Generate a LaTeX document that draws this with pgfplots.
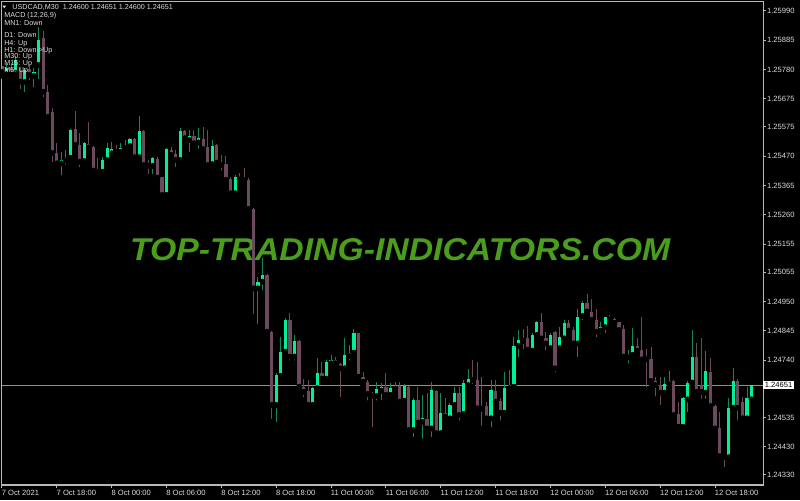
\documentclass[border=0pt]{standalone}
\usepackage{pgfplots}
\pgfplotsset{compat=1.18}
\usepackage{pgfplotstable}
\usepackage{fontspec}
\setmainfont{Liberation Sans}
\definecolor{bullbody}{HTML}{00F09A}
\definecolor{bullwick}{HTML}{14875A}
\definecolor{bearbody}{HTML}{6A4A5C}
\definecolor{bearwick}{HTML}{6A4A5C}
\definecolor{framec}{HTML}{B8B8B8}
\definecolor{txt}{HTML}{DCDCDC}
\definecolor{bidline}{HTML}{9A8A92}
\definecolor{wm}{HTML}{4A9E1C}

\pgfplotstableread{
x o h l c
1 1.25764 1.25799 1.25742 1.25785
3 1.25767 1.25828 1.25749 1.25814
5 1.25735 1.25785 1.25689 1.25778
7 1.25757 1.25785 1.25706 1.25771
8 1.25796 1.25932 1.25735 1.25885
13 1.25444 1.25486 1.25391 1.25456
14 1.25454 1.25492 1.25430 1.25464
15 1.25464 1.25567 1.25461 1.25563
18 1.25452 1.25522 1.25444 1.25516
22 1.25414 1.25468 1.25396 1.25456
23 1.25456 1.25518 1.25444 1.25500
24 1.25480 1.25522 1.25462 1.25494
26 1.25486 1.25516 1.25474 1.25498
27 1.25498 1.25528 1.25486 1.25506
28 1.25506 1.25534 1.25498 1.25530
30 1.25466 1.25613 1.25456 1.25561
33 1.25435 1.25468 1.25396 1.25462
36 1.25331 1.25498 1.25325 1.25494
39 1.25456 1.25572 1.25450 1.25561
41 1.25528 1.25563 1.25474 1.25542
43 1.25519 1.25569 1.25486 1.25535
46 1.25441 1.25528 1.25435 1.25507
51 1.25337 1.25402 1.25319 1.25396
56 1.24997 1.25039 1.24860 1.25021
57 1.25021 1.25106 1.24980 1.25045
60 1.24580 1.24693 1.24508 1.24687
61 1.24684 1.24824 1.24681 1.24770
62 1.24770 1.24890 1.24765 1.24884
64 1.24753 1.24830 1.24729 1.24810
68 1.24580 1.24645 1.24568 1.24640
69 1.24640 1.24747 1.24633 1.24693
71 1.24674 1.24741 1.24669 1.24735
72 1.24729 1.24759 1.24723 1.24741
75 1.24711 1.24818 1.24699 1.24759
76 1.24755 1.24794 1.24729 1.24767
77 1.24767 1.24851 1.24759 1.24838
82 1.24612 1.24663 1.24586 1.24636
83 1.24631 1.24657 1.24588 1.24643
85 1.24616 1.24657 1.24598 1.24640
86 1.24638 1.24663 1.24631 1.24648
88 1.24595 1.24655 1.24586 1.24648
90 1.24490 1.24604 1.24455 1.24598
92 1.24520 1.24616 1.24449 1.24532
94 1.24496 1.24663 1.24455 1.24633
96 1.24479 1.24622 1.24473 1.24552
98 1.24532 1.24586 1.24526 1.24580
99 1.24580 1.24645 1.24574 1.24622
101 1.24548 1.24669 1.24544 1.24657
102 1.24651 1.24708 1.24640 1.24673
105 1.24566 1.24679 1.24496 1.24574
107 1.24532 1.24669 1.24490 1.24633
110 1.24552 1.24699 1.24550 1.24640
111 1.24640 1.24705 1.24638 1.24648
112 1.24645 1.24822 1.24644 1.24791
113 1.24791 1.24848 1.24741 1.24812
116 1.24774 1.24836 1.24765 1.24830
117 1.24830 1.24881 1.24824 1.24878
120 1.24783 1.24836 1.24781 1.24830
122 1.24783 1.24860 1.24781 1.24822
123 1.24818 1.24884 1.24812 1.24874
126 1.24800 1.24922 1.24741 1.24893
127 1.24898 1.24953 1.24872 1.24944
131 1.24846 1.24878 1.24824 1.24860
132 1.24858 1.24896 1.24827 1.24893
137 1.24750 1.24777 1.24719 1.24759
138 1.24759 1.24854 1.24750 1.24791
145 1.24624 1.24679 1.24616 1.24655
146 1.24655 1.24702 1.24640 1.24667
149 1.24502 1.24610 1.24500 1.24604
150 1.24600 1.24667 1.24544 1.24660
151 1.24660 1.24848 1.24645 1.24750
154 1.24624 1.24774 1.24592 1.24702
159 1.24393 1.24604 1.24383 1.24570
160 1.24570 1.24711 1.24568 1.24667
163 1.24532 1.24643 1.24529 1.24604
164 1.24600 1.24651 1.24600 1.24651
}\bull

\pgfplotstableread{
x o h l c
0 1.25792 1.25807 1.25757 1.25771
2 1.25785 1.25803 1.25749 1.25764
4 1.25778 1.25789 1.25700 1.25736
6 1.25782 1.25796 1.25731 1.25760
9 1.25891 1.25917 1.25671 1.25700
10 1.25700 1.25724 1.25599 1.25610
11 1.25628 1.25642 1.25438 1.25481
12 1.25482 1.25517 1.25438 1.25444
16 1.25566 1.25632 1.25492 1.25510
17 1.25510 1.25553 1.25420 1.25450
19 1.25512 1.25593 1.25499 1.25501
20 1.25504 1.25506 1.25402 1.25418
21 1.25423 1.25462 1.25396 1.25414
25 1.25494 1.25510 1.25474 1.25486
29 1.25530 1.25534 1.25456 1.25466
31 1.25561 1.25563 1.25432 1.25438
32 1.25442 1.25456 1.25396 1.25435
34 1.25460 1.25468 1.25391 1.25393
35 1.25394 1.25396 1.25319 1.25331
37 1.25492 1.25504 1.25456 1.25474
38 1.25478 1.25492 1.25420 1.25456
40 1.25561 1.25563 1.25516 1.25534
42 1.25542 1.25563 1.25510 1.25516
44 1.25532 1.25575 1.25486 1.25495
45 1.25504 1.25563 1.25436 1.25438
47 1.25510 1.25512 1.25426 1.25446
48 1.25444 1.25474 1.25408 1.25438
49 1.25441 1.25470 1.25383 1.25385
50 1.25388 1.25396 1.25325 1.25337
52 1.25396 1.25408 1.25385 1.25387
53 1.25391 1.25426 1.25373 1.25385
54 1.25385 1.25391 1.25274 1.25281
55 1.25280 1.25284 1.24896 1.24997
58 1.25045 1.25048 1.24836 1.24842
59 1.24842 1.24844 1.24520 1.24580
63 1.24884 1.24908 1.24729 1.24753
65 1.24810 1.24812 1.24633 1.24645
66 1.24645 1.24674 1.24598 1.24627
67 1.24631 1.24669 1.24568 1.24580
70 1.24693 1.24735 1.24673 1.24674
73 1.24741 1.24753 1.24723 1.24729
74 1.24725 1.24730 1.24598 1.24711
78 1.24836 1.24838 1.24674 1.24681
79 1.24681 1.24699 1.24651 1.24663
80 1.24663 1.24669 1.24586 1.24619
81 1.24624 1.24627 1.24490 1.24612
84 1.24645 1.24695 1.24610 1.24616
87 1.24648 1.24663 1.24586 1.24592
89 1.24645 1.24648 1.24487 1.24490
91 1.24598 1.24643 1.24514 1.24517
93 1.24529 1.24622 1.24479 1.24496
95 1.24631 1.24633 1.24461 1.24479
97 1.24552 1.24604 1.24520 1.24538
100 1.24622 1.24645 1.24514 1.24544
103 1.24673 1.24741 1.24645 1.24669
104 1.24669 1.24735 1.24567 1.24568
106 1.24576 1.24592 1.24514 1.24532
108 1.24631 1.24669 1.24580 1.24592
109 1.24595 1.24604 1.24514 1.24552
114 1.24815 1.24851 1.24770 1.24809
115 1.24818 1.24862 1.24770 1.24777
118 1.24878 1.24908 1.24812 1.24818
119 1.24818 1.24842 1.24765 1.24800
121 1.24842 1.24844 1.24687 1.24711
124 1.24874 1.24884 1.24842 1.24846
125 1.24848 1.24860 1.24794 1.24800
128 1.24944 1.24977 1.24908 1.24914
129 1.24914 1.24958 1.24878 1.24884
130 1.24884 1.24922 1.24812 1.24842
133 1.24893 1.24902 1.24884 1.24886
134 1.24886 1.24890 1.24866 1.24874
135 1.24876 1.24878 1.24830 1.24848
136 1.24851 1.24866 1.24750 1.24753
139 1.24791 1.24818 1.24770 1.24774
140 1.24777 1.24893 1.24723 1.24743
141 1.24747 1.24779 1.24633 1.24743
142 1.24745 1.24788 1.24657 1.24666
143 1.24666 1.24681 1.24600 1.24651
144 1.24651 1.24681 1.24570 1.24624
147 1.24667 1.24669 1.24532 1.24544
148 1.24548 1.24592 1.24501 1.24502
152 1.24750 1.24800 1.24610 1.24627
153 1.24651 1.24818 1.24592 1.24627
155 1.24699 1.24747 1.24562 1.24576
156 1.24576 1.24580 1.24479 1.24496
157 1.24496 1.24556 1.24395 1.24397
158 1.24397 1.24399 1.24347 1.24393
161 1.24667 1.24672 1.24514 1.24570
162 1.24592 1.24610 1.24520 1.24532
}\bear

\begin{document}
\begin{tikzpicture}
\fill[black] (-1.5pt,-11.25pt) rectangle (598.5pt,363.75pt);
\begin{axis}[
  at={(0pt,0pt)}, anchor=south west,
  scale only axis, width=570.75pt, height=362.25pt,
  xmin=0, xmax=166.5, ymin=1.242937, ymax=1.260211,
  axis line style={draw=framec, line width=0.75pt},
  clip mode=individual,
  xtick={0,12,24,36,48,60,72,84,96,108,120,132,144,156},
  xticklabels={7 Oct 2021, 7 Oct 18:00, 8 Oct 00:00, 8 Oct 06:00, 8 Oct 12:00, 8 Oct 18:00, 11 Oct 00:00, 11 Oct 06:00, 11 Oct 12:00, 11 Oct 18:00, 12 Oct 00:00, 12 Oct 06:00, 12 Oct 12:00, 12 Oct 18:00},
  ytick={1.25990,1.25885,1.25780,1.25675,1.25575,1.25470,1.25365,1.25260,1.25155,1.25055,1.24950,1.24845,1.24740,1.24535,1.24430,1.24330},
  yticklabels={1.25990,1.25885,1.25780,1.25675,1.25575,1.25470,1.25365,1.25260,1.25155,1.25055,1.24950,1.24845,1.24740,1.24535,1.24430,1.24330},
  xtick pos=bottom, ytick pos=right, yticklabel pos=right,
  tick align=outside, major tick length=2.25pt,
  tick style={draw=framec, line width=0.75pt},
  tick label style={font=\fontsize{5.7}{6}\selectfont, text=txt, inner sep=0pt},
  xticklabel style={anchor=north west, xshift=-0.3pt, yshift=-1.2pt},
  yticklabel style={anchor=west, xshift=0.6pt},
]
\node[text=wm, inner sep=0pt] at (axis cs:87.1,1.25136)
  {\resizebox{405pt}{16.5pt}{\bfseries\itshape TOP-TRADING-INDICATORS.COM}};
\addplot[bidline, line width=0.75pt, forget plot] coordinates {(0,1.24651) (166.5,1.24651)};
% wicks
\addplot[only marks, mark=none, forget plot,
  error bars/.cd, y dir=plus, y explicit, error mark=none,
  error bar style={line width=0.75pt, draw=bullwick}]
  table[x=x, y=l, y error plus expr=\thisrow{h}-\thisrow{l}] {\bull};
\addplot[only marks, mark=none, forget plot,
  error bars/.cd, y dir=plus, y explicit, error mark=none,
  error bar style={line width=0.75pt, draw=bearwick}]
  table[x=x, y=l, y error plus expr=\thisrow{h}-\thisrow{l}] {\bear};
% bodies
\addplot[only marks, mark=none, forget plot,
  error bars/.cd, y dir=plus, y explicit, error mark=none,
  error bar style={line width=2.4pt, draw=bullbody}]
  table[x=x, y=o, y error plus expr=\thisrow{c}-\thisrow{o}] {\bull};
\addplot[only marks, mark=none, forget plot,
  error bars/.cd, y dir=plus, y explicit, error mark=none,
  error bar style={line width=2.4pt, draw=bearbody}]
  table[x=x, y=c, y error plus expr=\thisrow{o}-\thisrow{c}] {\bear};
\node[anchor=west, fill=white, text=black, inner xsep=1.2pt, inner ysep=1pt,
  font=\fontsize{5.7}{6}\selectfont] at (axis cs:166.5,1.24651) {1.24651};
\end{axis}
% top-left information text
\fill[txt] (0.2pt,359.6pt) -- (3.2pt,359.6pt) -- (1.7pt,357.6pt) -- cycle;
\begin{scope}[every node/.style={anchor=base west, inner sep=0pt, text=txt, font=\fontsize{5.4}{6}\selectfont}]
\node at (7.6pt,356.6pt) {USDCAD,M30\ \ 1.24600 1.24651 1.24600 1.24651};
\node at (1.5pt,350.4pt) {MACD (12,26,9)};
\node at (1.5pt,344.9pt) {MN1: Down};
\node at (1.5pt,335.4pt) {D1: Down};
\node at (1.5pt,329.9pt) {H4: Up};
\node at (1.5pt,324.7pt) {H1: Down->Up};
\node at (1.5pt,319.6pt) {M30: Up};
\node at (1.5pt,314.6pt) {M15: Up};
\node at (1.5pt,309.2pt) {M5: Up};
\end{scope}
\pgfresetboundingbox
\path[use as bounding box] (-1.5pt,-11.25pt) rectangle (598.5pt,363.75pt);
\end{tikzpicture}
\end{document}
